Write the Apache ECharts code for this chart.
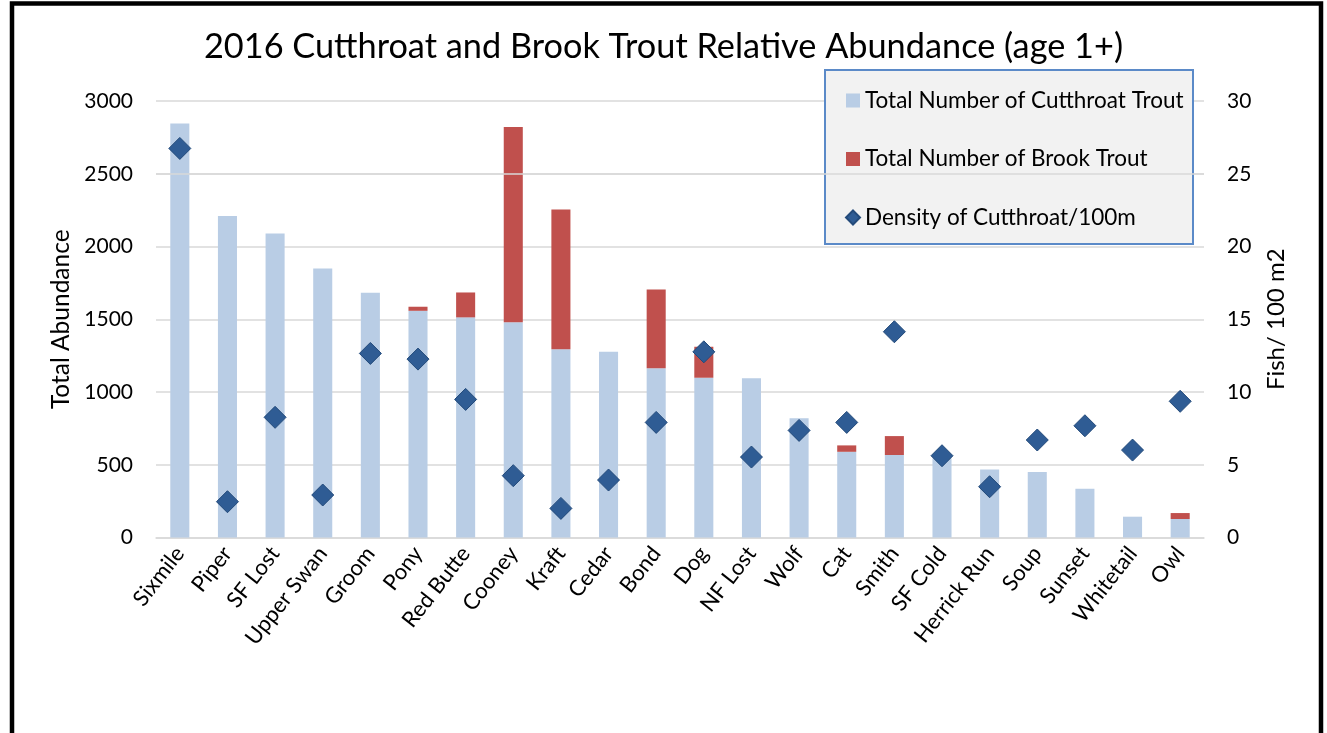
<!DOCTYPE html>
<html>
<head>
<meta charset="utf-8">
<script src="https://cdn.jsdelivr.net/npm/echarts@6/dist/echarts.min.js"></script>
<style>
html,body{margin:0;padding:0;background:#fff;}
#chart{width:1327px;height:733px;}
</style>
</head>
<body>
<div id="chart"></div>
<script>
var categories = ['Sixmile','Piper','SF Lost','Upper Swan','Groom','Pony','Red Butte','Cooney','Kraft','Cedar','Bond','Dog','NF Lost','Wolf','Cat','Smith','SF Cold','Herrick Run','Soup','Sunset','Whitetail','Owl'];
var cutthroat = [2846, 2209, 2090, 1849, 1682, 1558, 1513, 1480, 1293, 1276, 1164, 1098, 1094, 819, 589, 567, 545, 468, 450, 335, 143, 127];
var brook     = [0, 0, 0, 0, 0, 28, 171, 1342, 962, 0, 541, 213, 0, 0, 44, 130, 0, 0, 0, 0, 0, 41];
var density   = [26.74, 2.46, 8.26, 2.92, 12.65, 12.26, 9.49, 4.25, 2.0, 3.95, 7.91, 12.76, 5.53, 7.36, 7.91, 14.14, 5.62, 3.49, 6.70, 7.68, 6.01, 9.36];
var leftTicks = [0, 500, 1000, 1500, 2000, 2500, 3000];
var rightTicks = [0, 5, 10, 15, 20, 25, 30];

var FONT = 'Lato';
var chart = echarts.init(document.getElementById('chart'));
chart.setOption({
  backgroundColor: '#ffffff',
  textStyle: { fontFamily: FONT, color: '#000' },
  title: {
    text: '2016 Cutthroat and Brook Trout Relative Abundance (age 1+)',
    left: 'center', top: 30, padding: 0,
    textStyle: { fontFamily: FONT, fontSize: 34.3, fontWeight: 'normal', color: '#000' }
  },
  graphic: [
    { type: 'rect', z: 1, silent: true,
      shape: { x: 825, y: 70, width: 368, height: 174 },
      style: { fill: '#f2f2f2', stroke: '#5b8ac8', lineWidth: 2 } },
    { type: 'rect', z: 100, silent: true,
      shape: { x: 12, y: 3.5, width: 1309, height: 800 },
      style: { fill: 'none', stroke: '#000', lineWidth: 4.5 } }
  ],
  legend: {
    orient: 'vertical', left: 845, top: 89, padding: 0, itemGap: 35.5,
    itemWidth: 14, itemHeight: 14,
    textStyle: { fontFamily: FONT, fontSize: 22.5, color: '#000' },
    data: [
      { name: 'Total Number of Cutthroat Trout', icon: 'rect' },
      { name: 'Total Number of Brook Trout', icon: 'rect' },
      { name: 'Density of Cutthroat/100m', icon: 'diamond' }
    ]
  },
  grid: { left: 156, right: 123, top: 101, bottom: 195.5, containLabel: false },
  xAxis: {
    type: 'category', data: categories,
    axisLine: { lineStyle: { color: '#d9d9d9', width: 1.5 } },
    axisTick: { show: false },
    axisLabel: { rotate: 52, margin: 12, fontFamily: FONT, fontSize: 22, color: '#000', interval: 0 }
  },
  yAxis: [
    { type: 'value', min: leftTicks[0], max: leftTicks[leftTicks.length - 1], interval: 500,
      name: 'Total Abundance', nameLocation: 'middle', nameGap: 80, nameRotate: 90,
      nameTextStyle: { fontFamily: FONT, fontSize: 24.5, color: '#000' },
      axisLine: { show: false }, axisTick: { show: false },
      axisLabel: { margin: 23, fontFamily: FONT, fontSize: 21, color: '#000',
        formatter: function (v) { return String(v); } },
      splitLine: { lineStyle: { color: '#d9d9d9', width: 1.5 } } },
    { type: 'value', min: rightTicks[0], max: rightTicks[rightTicks.length - 1], interval: 5,
      name: 'Fish/ 100 m2', nameLocation: 'middle', nameGap: 60, nameRotate: 90,
      nameTextStyle: { fontFamily: FONT, fontSize: 24, color: '#000' },
      axisLine: { show: false }, axisTick: { show: false },
      axisLabel: { margin: 23, fontFamily: FONT, fontSize: 21, color: '#000',
        formatter: function (v) { return String(v); } },
      splitLine: { show: false } }
  ],
  series: [
    { name: 'Total Number of Cutthroat Trout', type: 'bar', stack: 'total', data: cutthroat,
      barWidth: '40%', itemStyle: { color: '#b9cde5' },
      markLine: { silent: true, symbol: 'none', label: { show: false },
        lineStyle: { color: '#d9d9d9', width: 1.5, type: 'solid' },
        data: [{ yAxis: 2500 }] } },
    { name: 'Total Number of Brook Trout', type: 'bar', stack: 'total', data: brook,
      barWidth: '40%', itemStyle: { color: '#c0504d' } },
    { name: 'Density of Cutthroat/100m', type: 'scatter', yAxisIndex: 1, data: density,
      symbol: 'diamond', symbolSize: 22, z: 5,
      itemStyle: { color: '#2f5c94', borderColor: '#234a7a', borderWidth: 1, opacity: 1 } }
  ]
});
</script>
</body>
</html>
